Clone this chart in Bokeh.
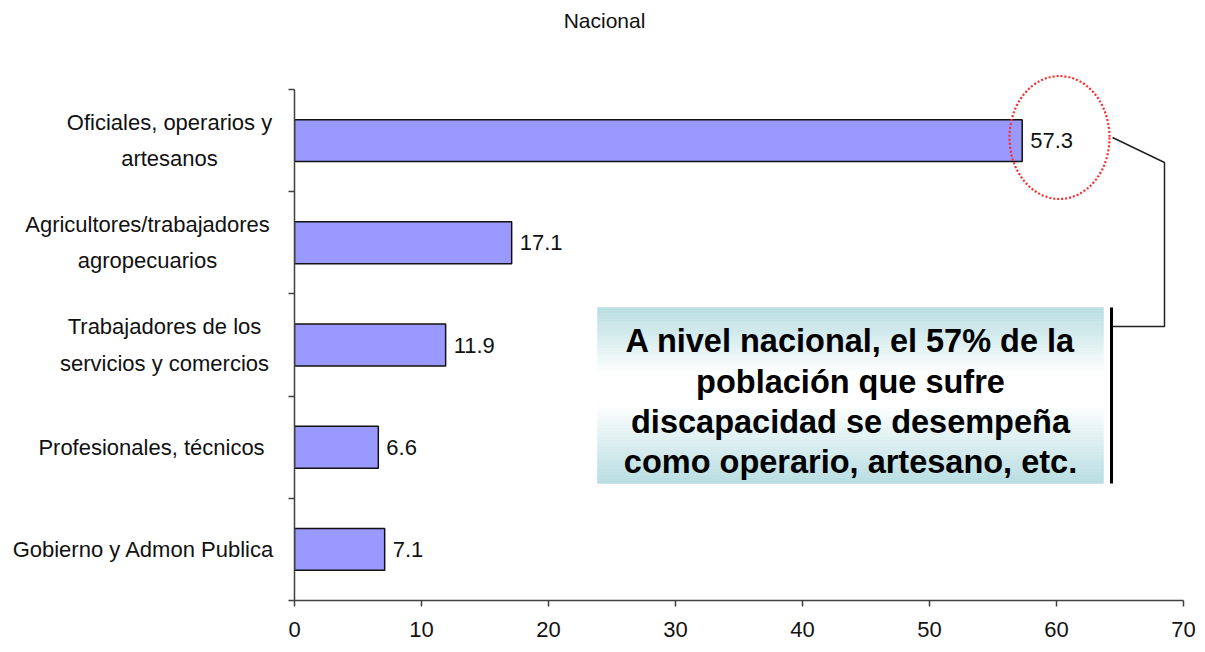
from bokeh.plotting import figure
from bokeh.layouts import row
from bokeh.models import FixedTicker, ColumnDataSource, Range1d
from bokeh.core.properties import value
from bokeh.embed import file_html
from bokeh.resources import INLINE

# ---- data ----
categories = [
    "Oficiales, operarios y\nartesanos",
    "Agricultores/trabajadores\nagropecuarios",
    "Trabajadores de los\nservicios y comercios",
    "Profesionales, técnicos",
    "Gobierno y Admon Publica",
]
values = [57.3, 17.1, 11.9, 6.6, 7.1]
value_labels = ["57.3", "17.1", "11.9", "6.6", "7.1"]
x_ticks = [0, 10, 20, 30, 40, 50, 60, 70]
title_text = "Nacional"
note_lines = [
    "A nivel nacional, el 57% de la",
    "población que sufre",
    "discapacidad se desempeña",
    "como operario, artesano, etc.",
]

# ---- layout / style ----
FONT = "Liberation Sans"
n = len(categories)
ypos = [n - 0.5 - i for i in range(n)]

W, H = 1205, 652
LABEL_W = 280          # width of the label strip on the left
AXIS_PAD = 14          # border left of the main frame (room for the y axis)
left = LABEL_W + AXIS_PAD   # screen x of the frame's left edge
right, bottom = 22, 52
frame_w = W - left - right
frame_h = H - bottom
px_per_y = 102.2
y_end = frame_h / px_per_y
X_END = 70
px_per_x = frame_w / X_END


def xd(px):
    """screen x (px from left edge of page) -> data x"""
    return (px - left) / px_per_x


def yd(py):
    """screen y (px from top edge) -> data y"""
    return (frame_h - py) / px_per_y


# horizontal centres (screen px) of the category label blocks
label_centers_px = [169, 147, 164, 151, 143]

yr = Range1d(0, y_end)

# ---------- label strip ----------
lab = figure(width=LABEL_W, height=H, x_range=(0, LABEL_W), y_range=yr,
             output_backend="svg", toolbar_location=None,
             x_axis_location=None, y_axis_location=None,
             min_border_left=0, min_border_right=0, min_border_top=0,
             min_border_bottom=bottom)
lab.outline_line_color = None
lab.xgrid.visible = False
lab.ygrid.visible = False
lab.text(x=label_centers_px, y=ypos, text=categories, text_font=value(FONT),
         text_font_size="22px", text_color="#111111", text_align="center",
         text_baseline="middle", text_line_height=1.45)

# ---------- main chart ----------
p = figure(width=W - LABEL_W, height=H, x_range=(0, X_END), y_range=yr,
           output_backend="svg", toolbar_location=None,
           min_border_left=AXIS_PAD, min_border_right=right,
           min_border_bottom=bottom, min_border_top=0)
p.outline_line_color = None
p.background_fill_color = "white"
p.border_fill_color = "white"
p.xgrid.visible = False
p.ygrid.visible = False

xa = p.xaxis[0]
xa.ticker = FixedTicker(ticks=x_ticks)
xa.major_tick_out = 6
xa.major_tick_in = 0
xa.minor_tick_out = 0
xa.minor_tick_in = 0
xa.axis_line_color = "#404040"
xa.axis_line_width = 1.5
xa.major_tick_line_color = "#404040"
xa.major_tick_line_width = 1.5
xa.major_label_text_font = FONT
xa.major_label_text_font_size = "22px"
xa.major_label_text_color = "#111111"
xa.major_label_standoff = 15

ya = p.yaxis[0]
ya.bounds = (0, n)
ya.ticker = FixedTicker(ticks=[], minor_ticks=list(range(n + 1)))
ya.major_tick_out = 0
ya.major_tick_in = 0
ya.minor_tick_out = 6
ya.minor_tick_in = 0
ya.major_label_standoff = 0
ya.minor_tick_line_color = "#404040"
ya.minor_tick_line_width = 1.5
ya.axis_line_color = "#404040"
ya.axis_line_width = 1.5

# bars
src = ColumnDataSource(dict(y=ypos, v=values, lab=value_labels))
p.hbar(y="y", right="v", left=0, height=0.41, source=src,
       fill_color="#9999ff", line_color="#111111", line_width=1.5)
p.text(x="v", y="y", text="lab", source=src, x_offset=8,
       text_font=value(FONT), text_font_size="22px", text_color="#111111",
       text_align="left", text_baseline="middle")

# title
p.text(x=[xd(604)], y=[yd(20)], text=[title_text], text_font=value(FONT),
       text_font_size="21px", text_color="#111111",
       text_align="center", text_baseline="middle")

# gradient note box
bx0, bx1 = xd(597), xd(1103)
by0, by1 = yd(483), yd(307)
teal = (183, 221, 225)
white = (255, 255, 255)
nstrip = 60
qs = dict(left=[], right=[], top=[], bottom=[], color=[])
for k in range(nstrip):
    t = (k + 0.5) / nstrip  # 0 at top, 1 at bottom
    if t < 0.38:
        f = 1 - t / 0.38
    elif t < 0.55:
        f = 0.0
    else:
        f = (t - 0.55) / 0.45
    f = max(0.0, min(1.0, f))
    c = tuple(int(round(white[j] + (teal[j] - white[j]) * f)) for j in range(3))
    qs["left"].append(bx0)
    qs["right"].append(bx1)
    qs["top"].append(by1 - (by1 - by0) * k / nstrip)
    qs["bottom"].append(by1 - (by1 - by0) * (k + 1) / nstrip)
    qs["color"].append("#%02x%02x%02x" % c)
p.quad(left="left", right="right", top="top", bottom="bottom",
       fill_color="color", line_color="color", line_width=0.5,
       source=ColumnDataSource(qs))

note_y = [yd(340), yd(381), yd(421), yd(461)]
p.text(x=[(bx0 + bx1) / 2] * len(note_lines), y=note_y, text=note_lines,
       text_font=value(FONT), text_font_size="32.5px", text_font_style="bold",
       text_color="#000000", text_align="center", text_baseline="middle")

# vertical black bar right of box
p.segment(x0=[xd(1111)], y0=[by0], x1=[xd(1111)], y1=[by1],
          line_color="#000000", line_width=3)

# bracket connector
p.line(x=[xd(1112), xd(1164), xd(1164), xd(1112)],
       y=[yd(137), yd(162), yd(326), yd(326)],
       line_color="#222222", line_width=1.5)

# red dotted ellipse around the top value
p.ellipse(x=[xd(1059)], y=[yd(137)], width=100, height=123,
          width_units="screen", height_units="screen",
          fill_color=None, line_color="#ff2a2a", line_width=2.2,
          line_dash="2 2")

layout = row(lab, p, spacing=0)
open("out.html", "w").write(file_html(layout, INLINE))
